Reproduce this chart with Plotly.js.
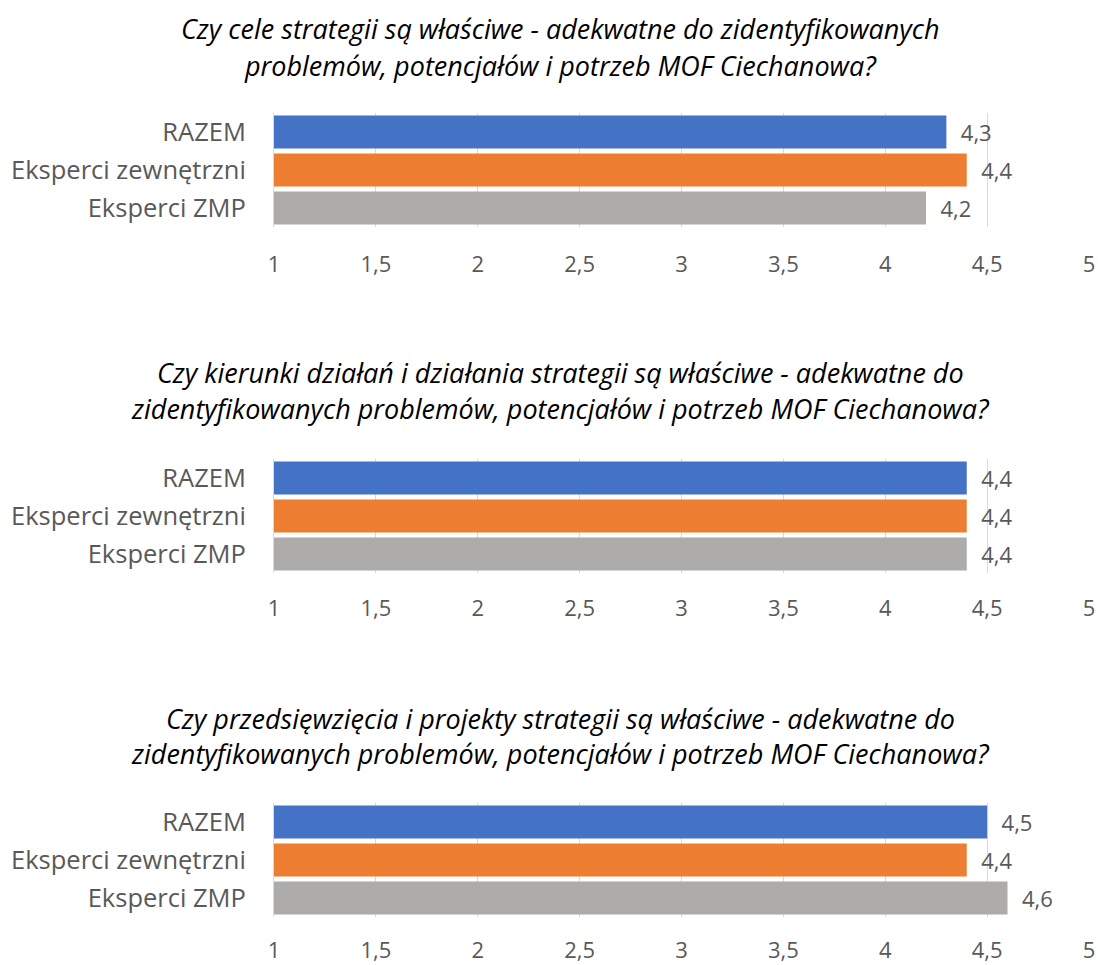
<!DOCTYPE html>
<html><head><meta charset="utf-8">
<script src="https://cdn.plot.ly/plotly-3.0.1.min.js"></script>
<style>html,body{margin:0;padding:0;background:#fff}#chart{width:1098px;height:965px}</style>
</head><body><div id="chart"></div>
<script>
const categories = ['RAZEM', 'Eksperci zewnętrzni', 'Eksperci ZMP'];
const colors = ['#4472C4', '#ED7D31', '#AEABAB'];
const q1 = [4.3, 4.4, 4.2];
const q2 = [4.4, 4.4, 4.4];
const q3 = [4.5, 4.4, 4.6];
const titles1 = ['Czy cele strategii są właściwe - adekwatne do zidentyfikowanych', 'problemów, potencjałów i potrzeb MOF Ciechanowa?'];
const titles2 = ['Czy kierunki działań i działania strategii są właściwe - adekwatne do', 'zidentyfikowanych problemów, potencjałów i potrzeb MOF Ciechanowa?'];
const titles3 = ['Czy przedsięwzięcia i projekty strategii są właściwe - adekwatne do', 'zidentyfikowanych problemów, potencjałów i potrzeb MOF Ciechanowa?'];
const tickVals = [1, 1.5, 2, 2.5, 3, 3.5, 4, 4.5, 5];
const tickText = ['1', '1,5', '2', '2,5', '3', '3,5', '4', '4,5', '5'];

const H = 965;
const FONT = '"Open Sans", "Noto Sans", sans-serif';
const series = [q1, q2, q3];
const titles = [titles1, titles2, titles3];
const domTop = [113, 459, 803];   // pixel top of each plot area
const tickLens = [18, 16, 14];
const titleCenters = [[28, 65], [372, 408], [718, 753]];
const domH = 114;

const data = series.map((vals, i) => ({
  type: 'bar', orientation: 'h',
  x: vals, y: categories,
  xaxis: i === 0 ? 'x' : 'x' + (i + 1),
  yaxis: i === 0 ? 'y' : 'y' + (i + 1),
  marker: {color: colors},
  text: vals.map(v => '\u00a0\u00a0' + v.toFixed(1).replace('.', ',')),
  textposition: 'outside',
  textfont: {family: FONT, size: 22, color: '#595959'},
  cliponaxis: false,
  hoverinfo: 'skip'
}));

const layout = {
  width: 1098, height: 965,
  margin: {l: 0, r: 0, t: 0, b: 0},
  paper_bgcolor: '#fff', plot_bgcolor: '#fff',
  showlegend: false,
  bargap: 0.13,
  annotations: []
};

for (let i = 0; i < 3; i++) {
  const s = i === 0 ? '' : String(i + 1);
  const top = domTop[i], bot = top + domH;
  layout['xaxis' + s] = {
    domain: [274 / 1098, 1089 / 1098],
    anchor: 'y' + s,
    range: [1, 5],
    tickvals: tickVals, ticktext: tickText,
    showgrid: true, gridcolor: '#D9D9D9', gridwidth: 1,
    zeroline: false, showline: false,
    ticks: 'outside', ticklen: tickLens[i], tickcolor: 'rgba(0,0,0,0)',
    tickfont: {family: FONT, size: 22, color: '#595959'},
    fixedrange: true
  };
  layout['yaxis' + s] = {
    domain: [1 - bot / H, 1 - top / H],
    anchor: 'x' + s,
    autorange: 'reversed',
    showline: true, linecolor: '#D9D9D9', linewidth: 1,
    ticks: 'outside', ticklen: 22, tickcolor: 'rgba(0,0,0,0)',
    tickfont: {family: FONT, size: 25.5, color: '#595959'},
    fixedrange: true
  };
  titles[i].forEach((t, k) => {
    layout.annotations.push({
      text: '<i>' + t + '</i>', xref: 'paper', yref: 'paper',
      x: 560 / 1098, y: 1 - titleCenters[i][k] / H, xanchor: 'center', yanchor: 'middle',
      showarrow: false,
      font: {family: FONT, size: 27, color: '#000'}
    });
  });
}

Plotly.newPlot('chart', data, layout, {displayModeBar: false, staticPlot: true});
</script></body></html>
